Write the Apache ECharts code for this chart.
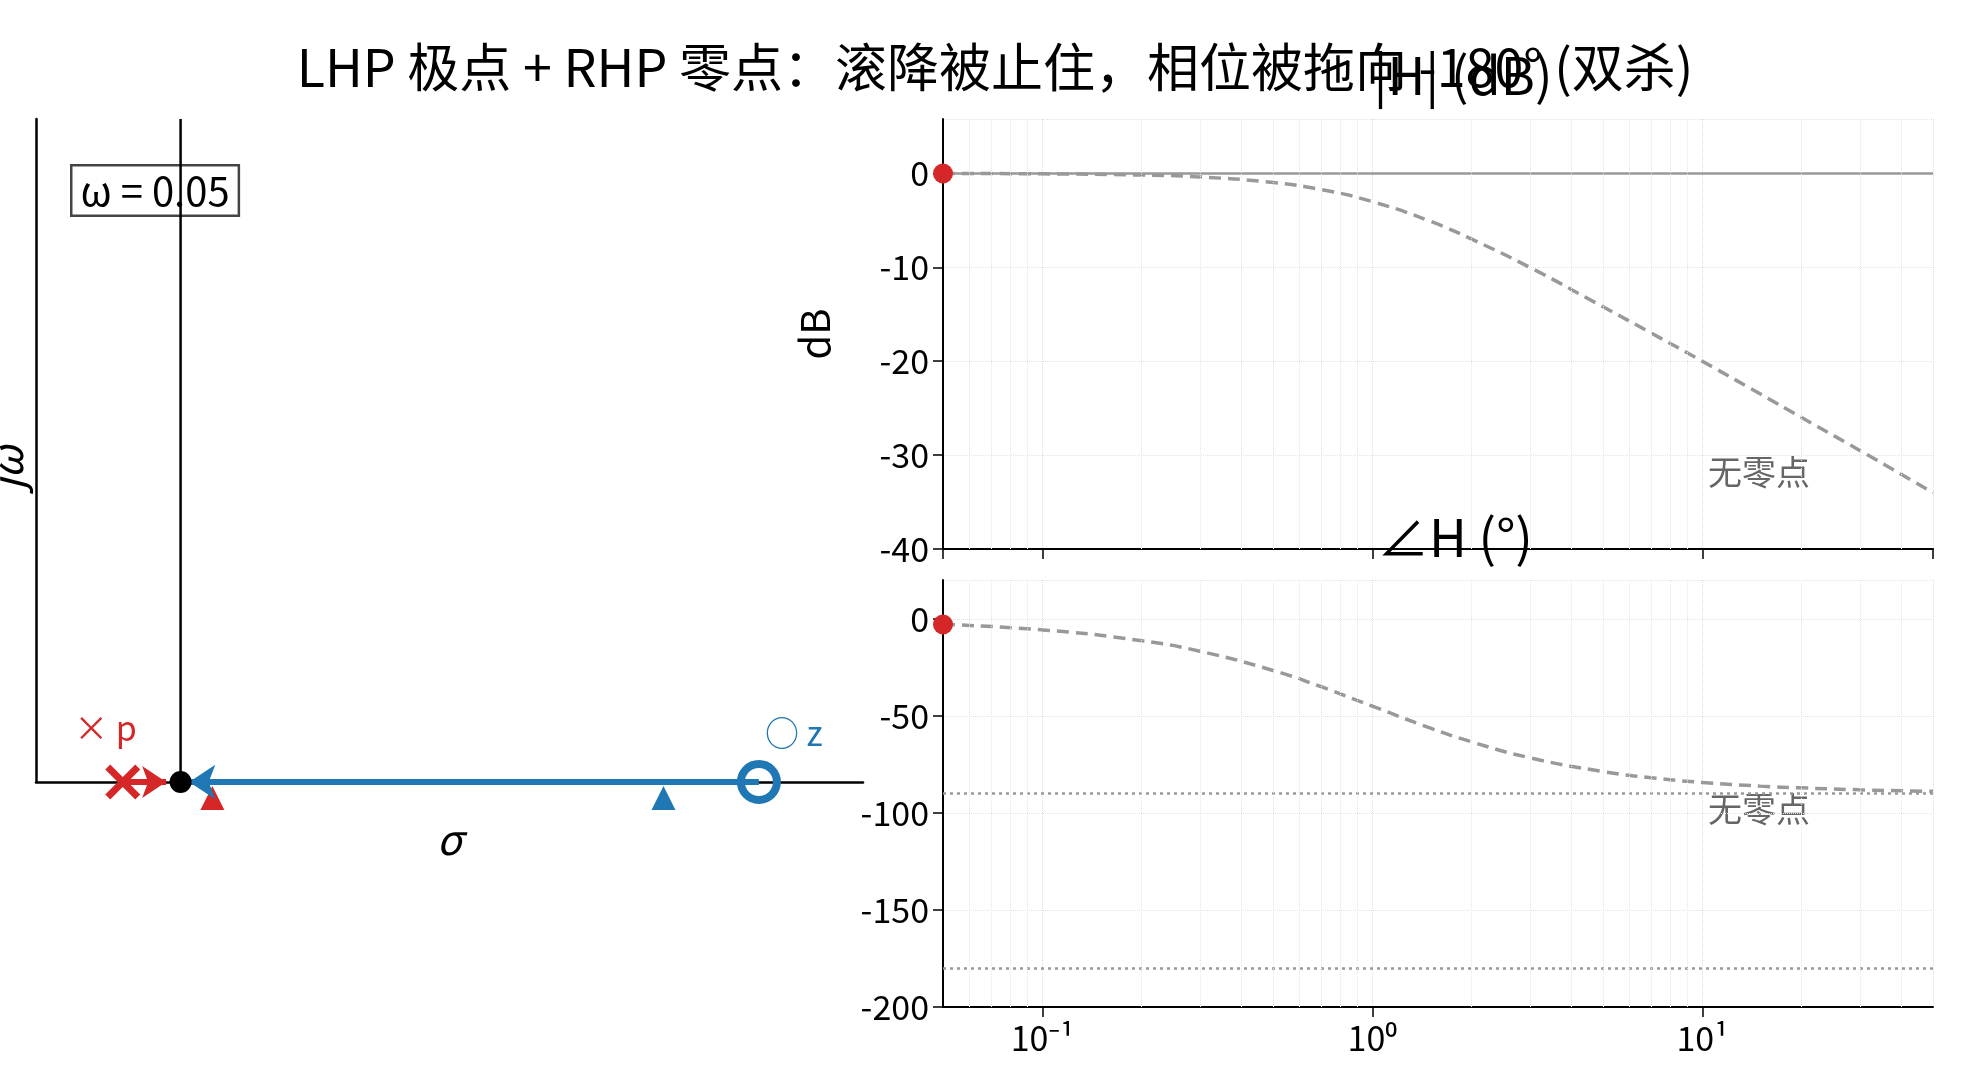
<!DOCTYPE html><html><head><meta charset="utf-8">
<script src="https://cdn.jsdelivr.net/npm/echarts@6/dist/echarts.min.js"></script>
<style>html,body{margin:0;background:#fff}#c{width:1980px;height:1080px}</style></head><body><div id="c"></div>
<script>
const omega=[0.05,0.1,0.2,0.3,0.5,0.7,1,1.5,2,3,5,7,10,15,20,30,50];
const magDB=[0,-0.04,-0.17,-0.37,-0.97,-1.72,-3.0,-5.1,-7.0,-10.0,-14.2,-17.0,-20.0,-23.5,-26.0,-29.5,-34.0];
const phaseDeg=[-2.9,-5.7,-11.3,-16.7,-26.6,-35,-45,-56.3,-63.4,-71.6,-78.7,-81.9,-84.3,-86.2,-87.1,-88.1,-88.9];
const poleSigma=-0.2, zeroSigma=2.0, curOmega=0.05;
const poleTri=0.11, zeroTri=1.67;
const magTicks=[0,-10,-20,-30,-40], phaseTicks=[0,-50,-100,-150,-200];
const minorW=[0.06,0.07,0.08,0.09,0.2,0.3,0.4,0.5,0.6,0.7,0.8,0.9,2,3,4,5,6,7,8,9,20,30,40];
const F='"Noto Sans CJK SC","Noto Sans",sans-serif';
const sup={'-':'⁻','1':'¹','0':'⁰'};
const fmtLog=v=>{const e=Math.round(Math.log10(v));return '10'+String(e).split('').map(c=>sup[c]).join('');};
const chart=echarts.init(document.getElementById('c'));
const TS={fontFamily:F,fontSize:52,fontWeight:'normal',color:'#000'};
const minorLines=minorW.map(x=>({xAxis:x,lineStyle:{color:'#e6e6e6',width:1,type:'dotted'}}));
chart.setOption({
 animation:false,
 title:[{text:'LHP 极点 + RHP 零点：滚降被止住，相位被拖向 -180° (双杀)',left:990,top:36,textAlign:'center',textStyle:TS},
  {text:'|H| (dB)',left:1458,top:44,textAlign:'center',textStyle:TS},
  {text:'∠H (°)',left:1450,top:506,textAlign:'center',textStyle:TS}],
 graphic:[{type:'text',left:70,top:164,style:{text:'ω = 0.05',font:'40px '+F,fill:'#000',backgroundColor:'#fff',borderColor:'#444',borderWidth:2.5,padding:[4,8]}},
  {type:'text',x:-14,y:490,rotation:Math.PI/2,style:{text:'jω',font:'italic 42px '+F,fill:'#000'}},
  {type:'text',left:1708,top:455,style:{text:'无零点',font:'34px '+F,fill:'#666'}},
  {type:'text',left:1708,top:792,style:{text:'无零点',font:'34px '+F,fill:'#666'}}],
 grid:[{left:36,top:119,width:827,height:663},
  {left:943,top:119,width:990,height:430},
  {left:943,top:580,width:990,height:427}],
 xAxis:[{gridIndex:0,type:'value',min:-0.5,max:2.36,axisLine:{onZero:true,lineStyle:{color:'#000',width:2.5}},axisTick:{show:false},axisLabel:{show:false},splitLine:{show:false},name:'σ',nameLocation:'middle',nameGap:36,nameTextStyle:{fontFamily:F,fontSize:42,fontStyle:'italic',color:'#000'}},
  {gridIndex:1,type:'log',logBase:10,min:0.05,max:50,axisLine:{onZero:false,lineStyle:{color:'#000',width:2}},axisTick:{length:10,lineStyle:{color:'#000',width:1.5}},axisLabel:{show:false},splitLine:{show:true,lineStyle:{color:'#ddd',type:'dotted'}}},
  {gridIndex:2,type:'log',logBase:10,min:0.05,max:50,axisLine:{onZero:false,lineStyle:{color:'#000',width:2}},axisTick:{length:10,lineStyle:{color:'#000',width:1.5}},axisLabel:{fontFamily:F,fontSize:34,color:'#000',formatter:fmtLog,showMinLabel:false,showMaxLabel:false,margin:14},splitLine:{show:true,lineStyle:{color:'#ddd',type:'dotted'}}}],
 yAxis:[{gridIndex:0,type:'value',min:0,max:1,axisLine:{show:true,onZero:false,lineStyle:{color:'#000',width:2.5}},axisTick:{show:false},axisLabel:{show:false},splitLine:{show:false}},
  {gridIndex:1,type:'value',min:-40,max:5.8,interval:10,axisLine:{show:true,onZero:false,lineStyle:{color:'#000',width:2}},axisTick:{show:true,length:10,lineStyle:{color:'#000',width:1.5}},axisLabel:{fontFamily:F,fontSize:34,color:'#000',margin:14,showMaxLabel:false,formatter:v=>magTicks.includes(v)?String(v):''},splitLine:{show:true,lineStyle:{color:'#e4e4e4',type:'dotted'}},name:'dB',nameLocation:'middle',nameGap:108,nameRotate:90,nameTextStyle:{fontFamily:F,fontSize:40,color:'#000'}},
  {gridIndex:2,type:'value',min:-200,max:20,interval:50,axisLine:{show:true,onZero:false,lineStyle:{color:'#000',width:2}},axisTick:{show:true,length:10,lineStyle:{color:'#000',width:1.5}},axisLabel:{fontFamily:F,fontSize:34,color:'#000',margin:14,showMaxLabel:false,formatter:v=>phaseTicks.includes(v)?String(v):''},splitLine:{show:true,lineStyle:{color:'#e4e4e4',type:'dotted'}}}],
 series:[
  {type:'line',xAxisIndex:0,yAxisIndex:0,data:[[0,0],[0,1]],symbol:'none',lineStyle:{color:'#000',width:2.5},
   markLine:{silent:true,label:{show:false},data:[
    [{coord:[poleSigma,0],symbol:'none',lineStyle:{color:'#d62728',width:6,type:'solid'}},{coord:[-0.05,0],symbol:'arrow',symbolSize:24}],
    [{coord:[zeroSigma,0],symbol:'none',lineStyle:{color:'#1f77b4',width:6,type:'solid'}},{coord:[0.03,0],symbol:'arrow',symbolSize:26}]]}},
  {type:'scatter',xAxisIndex:0,yAxisIndex:0,data:[[0,0]],symbol:'circle',symbolSize:22,itemStyle:{color:'#000',opacity:1},z:5},
  {type:'scatter',xAxisIndex:0,yAxisIndex:0,data:[[poleSigma,0]],symbol:'path://M0,0L10,10M10,0L0,10',symbolSize:30,itemStyle:{color:'#d62728',borderColor:'#d62728',borderWidth:7,opacity:1},
   label:{show:true,position:[-30,-52],formatter:'× p',fontFamily:F,fontSize:34,color:'#d62728'}},
  {type:'scatter',xAxisIndex:0,yAxisIndex:0,data:[[zeroSigma,0]],symbol:'circle',symbolSize:36,itemStyle:{color:'rgba(255,255,255,0)',borderColor:'#1f77b4',borderWidth:8,opacity:1},z:4,
   label:{show:true,position:[28,-44],formatter:'○ z',fontFamily:F,fontSize:34,color:'#1f77b4'}},
  {type:'scatter',xAxisIndex:0,yAxisIndex:0,data:[[poleTri,0]],symbol:'triangle',symbolSize:24,symbolOffset:[0,16],itemStyle:{color:'#d62728',opacity:1}},
  {type:'scatter',xAxisIndex:0,yAxisIndex:0,data:[[zeroTri,0]],symbol:'triangle',symbolSize:24,symbolOffset:[0,16],itemStyle:{color:'#1f77b4',opacity:1}},
  {type:'line',xAxisIndex:1,yAxisIndex:1,data:omega.map((w,i)=>[w,magDB[i]]),symbol:'none',smooth:true,lineStyle:{color:'#999',width:3.5,type:[12,7]},
   markLine:{silent:true,symbol:'none',label:{show:false},data:[{yAxis:0,lineStyle:{color:'#999',width:2.5,type:'solid'}}].concat(minorLines)}},
  {type:'scatter',xAxisIndex:1,yAxisIndex:1,data:[[curOmega,magDB[0]]],symbolSize:20,itemStyle:{color:'#d62728',opacity:1},clip:false,z:6},
  {type:'line',xAxisIndex:2,yAxisIndex:2,data:omega.map((w,i)=>[w,phaseDeg[i]]),symbol:'none',smooth:true,lineStyle:{color:'#999',width:3.5,type:[12,7]},
   markLine:{silent:true,symbol:'none',label:{show:false},data:[{yAxis:-90,lineStyle:{color:'#999',width:2.5,type:[3,4]}},{yAxis:-180,lineStyle:{color:'#999',width:2.5,type:[3,4]}}].concat(minorLines)}},
  {type:'scatter',xAxisIndex:2,yAxisIndex:2,data:[[curOmega,phaseDeg[0]]],symbolSize:20,itemStyle:{color:'#d62728',opacity:1},clip:false,z:6}
 ]
});
</script></body></html>
